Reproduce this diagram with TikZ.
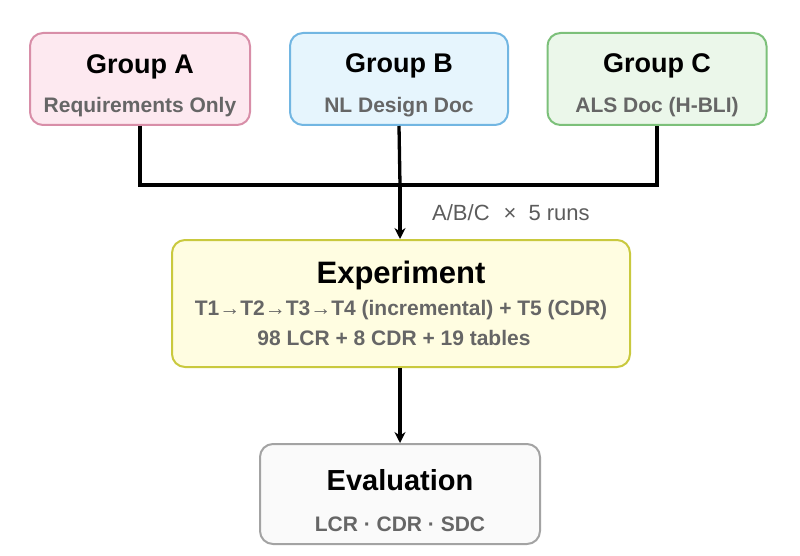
\documentclass[tikz,border=0pt]{standalone}
\usepackage{fontspec}
\setmainfont{Liberation Sans}
\usetikzlibrary{arrows.meta}
\definecolor{aFill}{HTML}{FDE9F0}\definecolor{aLine}{HTML}{D88EA8}
\definecolor{bFill}{HTML}{E6F5FD}\definecolor{bLine}{HTML}{72B6E2}
\definecolor{cFill}{HTML}{EBF7EA}\definecolor{cLine}{HTML}{7CC07A}
\definecolor{eFill}{HTML}{FFFDE1}\definecolor{eLine}{HTML}{C9C93E}
\definecolor{vFill}{HTML}{FAFAFA}\definecolor{vLine}{HTML}{A3A3A3}
\definecolor{subGray}{HTML}{666666}
\tikzset{
  box/.style={draw, line width=2pt, rounded corners=13pt, minimum width=#1, inner sep=0pt},
  ttl/.style={font=\bfseries\fontsize{27}{30}\selectfont, text=black, inner sep=0pt},
  sub/.style={font=\bfseries\fontsize{21}{24}\selectfont, text=subGray, inner sep=0pt},
  conn/.style={line width=3.3pt, black},
  arr/.style={conn, -{Stealth[length=11pt,width=11pt]}},
  lbl/.style={font=\fontsize{22}{25}\selectfont, text=subGray!90!black, inner sep=0pt}
}
\begin{document}
\begin{tikzpicture}[x=1pt,y=-1pt]
\useasboundingbox (0,0) rectangle (800,556);
% group boxes
\node[box=220pt, minimum height=92pt, fill=aFill, draw=aLine] (A) at (140,79) {};
\node[box=218pt, minimum height=92pt, fill=bFill, draw=bLine] (B) at (399,79) {};
\node[box=219pt, minimum height=92pt, fill=cFill, draw=cLine] (C) at (657,79) {};
\node[ttl] (At) at (140,67) {Group A};
\node[sub] (As) at (140,107) {Requirements Only};
\node[ttl] (Bt) at (399,66) {Group B};
\node[sub] (Bs) at (399,107) {NL Design Doc};
\node[ttl] (Ct) at (657,66) {Group C};
\node[sub] (Cs) at (657,107) {ALS Doc (H-BLI)};
% experiment
\node[box=458pt, minimum height=127pt, fill=eFill, draw=eLine] (E) at (401,303.5) {};
\node[ttl, font=\bfseries\fontsize{31}{34}\selectfont] (Et) at (401,275) {Experiment};
\node[sub] (E2) at (401,310) {T1→T2→T3→T4 (incremental) + T5 (CDR)};
\node[sub] (E3) at (394,338) {98 LCR + 8 CDR + 19 tables};
% evaluation
\node[box=280pt, minimum height=100pt, fill=vFill, draw=vLine] (V) at (400,494) {};
\node[ttl, font=\bfseries\fontsize{29}{32}\selectfont] (Vt) at (400,480) {Evaluation};
\node[sub] (Vs) at (400,524) {LCR · CDR · SDC};
% connectors
\coordinate (J) at (400,185);
\draw[conn] (A.south) -- (A.south |- J) -- (C.south |- J) -- (C.south);
\draw[conn] (B.south) -- (J);
\draw[arr] (J) -- (J |- E.north);
\node[lbl, anchor=west] (L) at (432,213) {A/B/C\hspace{14pt}×\hspace{12pt}5 runs};
\draw[arr] (E.south -| J) -- (V.north -| J);
\end{tikzpicture}
\end{document}
